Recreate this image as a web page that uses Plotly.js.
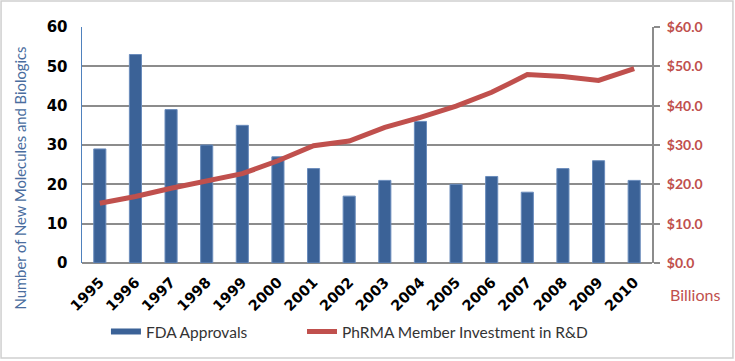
<!DOCTYPE html>
<html>
<head>
<meta charset="utf-8">
<script src="https://cdn.plot.ly/plotly-3.0.1.min.js"></script>
<style>html,body{margin:0;padding:0;background:#fff;}#chart{width:735px;height:361px;}</style>
</head>
<body>
<div id="chart"></div>
<script>
const years = ['1995','1996','1997','1998','1999','2000','2001','2002','2003','2004','2005','2006','2007','2008','2009','2010'];
const fdaApprovals = [29, 53, 39, 30, 35, 27, 24, 17, 21, 36, 20, 22, 18, 24, 26, 21];
const phrmaInvestment = [15.2, 16.9, 19.0, 21.0, 22.7, 26.0, 29.8, 31.0, 34.5, 37.0, 39.9, 43.4, 47.9, 47.4, 46.4, 49.4];
const leftTicks = [0, 10, 20, 30, 40, 50, 60];
const rightTicks = [0, 10, 20, 30, 40, 50, 60];
const rightTickText = ['$0.0', '$10.0', '$20.0', '$30.0', '$40.0', '$50.0', '$60.0'];

const font = 'Lato, "Open Sans", sans-serif';
const boldFont = '"DejaVu Sans", sans-serif';
const barColor = '#3b6297';
const lineColor = '#c0504d';

const traces = [
  {
    type: 'bar', name: 'FDA Approvals', x: years, y: fdaApprovals,
    marker: {color: barColor, line: {color: '#6a8cbc', width: 1}},
    width: 0.34, yaxis: 'y', showlegend: false
  },
  {
    type: 'scatter', mode: 'lines', name: 'PhRMA Member Investment in R&D',
    x: years, y: phrmaInvestment, yaxis: 'y2',
    line: {color: lineColor, width: 5}, legend: 'legend2'
  },
  {
    // legend entry for the bars (wide bar-like swatch)
    type: 'scatter', mode: 'lines', name: 'FDA Approvals',
    x: [years[0]], y: [null], yaxis: 'y',
    line: {color: barColor, width: 6}, legend: 'legend', hoverinfo: 'skip'
  }
];

const legendFont = {family: font, size: 15.5, color: '#333'};

const layout = {
  width: 735, height: 361,
  margin: {l: 82, r: 83, t: 27, b: 98},
  paper_bgcolor: '#fff', plot_bgcolor: '#fff',
  font: {family: font, color: '#000'},
  showlegend: true,
  legend: {orientation: 'h', x: 0.042, xanchor: 'left', y: -0.292, yanchor: 'middle',
           font: legendFont, bgcolor: 'rgba(0,0,0,0)'},
  legend2: {orientation: 'h', x: 0.386, xanchor: 'left', y: -0.292, yanchor: 'middle',
           font: legendFont, bgcolor: 'rgba(0,0,0,0)'},
  bargap: 0.5,
  xaxis: {
    type: 'category', tickangle: -45, showgrid: false, showline: false, zeroline: false,
    tickfont: {family: boldFont, size: 14.5, color: '#000', weight: 'bold'}, ticks: '', ticklen: 0,
    ticklabelstandoff: 7
  },
  yaxis: {
    range: [0, 60], tickvals: leftTicks, ticktext: leftTicks.map(String),
    showgrid: true, gridcolor: '#8c8c8c', gridwidth: 2,
    zeroline: true, zerolinecolor: '#8c8c8c', zerolinewidth: 2,
    showline: true, linecolor: '#4f81bd', linewidth: 1.5,
    tickfont: {family: boldFont, size: 15, color: '#000', weight: 'bold'}, ticks: '',
    ticklabelstandoff: 10
  },
  yaxis2: {
    range: [0, 60], overlaying: 'y', side: 'right', tickvals: rightTicks, ticktext: rightTickText,
    showgrid: false, zeroline: false, showline: true, linecolor: '#8c8c8c', linewidth: 2,
    ticks: 'outside', ticklen: 6, tickcolor: '#8c8c8c', tickwidth: 2,
    tickfont: {family: font, size: 14, color: lineColor, weight: 'bold'},
    ticklabelstandoff: 4
  },
  annotations: [
    {text: 'Billions', xref: 'paper', yref: 'paper', x: 1.028, y: -0.135, xanchor: 'left', yanchor: 'middle',
     showarrow: false, font: {family: font, size: 16, color: lineColor}},
    {text: 'Number of New Molecules and Biologics', xref: 'paper', yref: 'paper',
     x: -0.108, y: 0.36, xanchor: 'center', yanchor: 'middle', textangle: -90,
     showarrow: false, font: {family: font, size: 14.8, color: '#4a6d9e'}}
  ],
  shapes: [
    {type: 'rect', xref: 'paper', yref: 'paper', x0: -0.142, x1: 1.142, y0: -0.4025, y1: 1.11,
     line: {color: '#cfcfcf', width: 1.5}, fillcolor: 'rgba(0,0,0,0)', layer: 'below'}
  ]
};

Plotly.newPlot('chart', traces, layout, {displayModeBar: false, staticPlot: true});
</script>
</body>
</html>
